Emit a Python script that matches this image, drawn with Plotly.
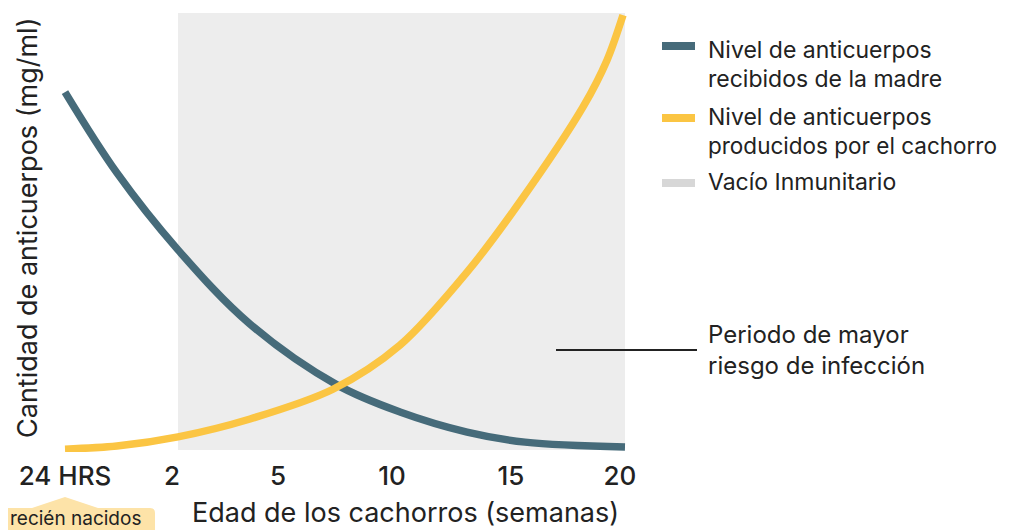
import plotly.graph_objects as go

# ---------------- data ----------------
tick_pos = [0.0, 0.964, 1.919, 2.946, 4.018, 5.0]
tick_labels = ["24 HRS", "2", "5", "10", "15", "20"]

madre_x = [0.0, 0.468, 1.018, 1.667, 2.450, 3.018, 3.622, 4.144, 5.045]
madre_y = [81.9, 63.4, 45.8, 28.8, 14.9, 8.7, 4.1, 1.8, 0.7]

cachorro_x = [0.0, 0.468, 1.018, 1.667, 2.414, 3.018, 3.622, 4.099, 4.667, 4.883, 5.027]
cachorro_y = [0.2, 0.9, 3.0, 7.1, 13.9, 24.0, 40.7, 56.8, 78.5, 89.2, 99.5]

vacio_x = [1.018, 5.045]
vacio_y = [0, 100]

legend_labels = [
    ["Nivel de anticuerpos", "recibidos de la madre"],
    ["Nivel de anticuerpos", "producidos por el cachorro"],
    ["Vacío Inmunitario"],
]
note_lines = ["Periodo de mayor", "riesgo de infección"]
x_title = "Edad de los cachorros (semanas)"
y_title = "Cantidad de anticuerpos (mg/ml)"
callout_text = "recién nacidos"

# ---------------- styling ----------------
TEAL = "#466B7A"
YELLOW = "#FBC543"
GAP_FILL = "#EDEDED"
GAP_SWATCH = "#D7D7D7"
TEXT = "#222222"
CALLOUT = "#FDE3A8"
FONT = "Inter"

OFF = 8  # page body margin
W, H = 1006, 522
L, R, T, B = 52, 382, 2, 78
PW, PH = W - L - R, H - T - B


def fx(px):  # page pixel -> paper
    return (px - OFF - L) / PW


def fy(py):
    return (H - B - (py - OFF)) / PH


fig = go.Figure()

fig.add_trace(go.Scatter(
    x=madre_x, y=madre_y, mode="lines",
    line=dict(color=TEAL, width=7.5, shape="spline", smoothing=1.0),
    hoverinfo="skip", showlegend=False))
fig.add_trace(go.Scatter(
    x=cachorro_x, y=cachorro_y, mode="lines",
    line=dict(color=YELLOW, width=7.5, shape="spline", smoothing=0.9),
    hoverinfo="skip", showlegend=False))

shapes = []
shapes.append(dict(type="rect", xref="x", yref="y",
                   x0=vacio_x[0], x1=vacio_x[1], y0=vacio_y[0], y1=vacio_y[1],
                   fillcolor=GAP_FILL, line=dict(width=0), layer="below"))

for color, cy in [(TEAL, 46), (YELLOW, 118), (GAP_SWATCH, 183)]:
    shapes.append(dict(type="rect", xref="paper", yref="paper",
                       x0=fx(662), x1=fx(695), y0=fy(cy + 4), y1=fy(cy - 4),
                       fillcolor=color, line=dict(width=0)))

shapes.append(dict(type="line", xref="paper", yref="paper",
                   x0=fx(556), x1=fx(697), y0=fy(350), y1=fy(350),
                   line=dict(color=TEXT, width=2)))


def P(px, py):
    return f"{fx(px):.5f},{fy(py):.5f}"


path = (f"M {P(8, 508)} L {P(32, 508)} L {P(65, 497)} L {P(98, 508)} "
        f"L {P(150, 508)} Q {P(155, 508)} {P(155, 513)} L {P(155, 540)} "
        f"L {P(8, 540)} Z")
shapes.append(dict(type="path", xref="paper", yref="paper", path=path,
                   fillcolor=CALLOUT, line=dict(width=0)))

annotations = []
leg_centers = [[50, 78.5], [116.5, 145], [182]]
for lines, centers in zip(legend_labels, leg_centers):
    for txt, cy in zip(lines, centers):
        fs = 22.5 if len(txt) > 22 else 23
        annotations.append(dict(text=txt, xref="paper", yref="paper",
                                x=fx(706), y=fy(cy), xanchor="left", yanchor="middle",
                                showarrow=False, font=dict(family=FONT, size=fs, color=TEXT)))

for txt, cy in zip(note_lines, [334, 365]):
    annotations.append(dict(text=txt, xref="paper", yref="paper",
                            x=fx(706), y=fy(cy), xanchor="left", yanchor="middle",
                            showarrow=False, font=dict(family=FONT, size=24, color=TEXT)))

annotations.append(dict(text=x_title, xref="paper", yref="paper",
                        x=fx(405), y=fy(512), xanchor="center", yanchor="middle",
                        showarrow=False, font=dict(family=FONT, size=27, color=TEXT)))
annotations.append(dict(text=y_title, xref="paper", yref="paper",
                        x=fx(27), y=fy(228), xanchor="center", yanchor="middle",
                        textangle=-90, showarrow=False,
                        font=dict(family=FONT, size=27, color=TEXT)))

annotations.append(dict(text=callout_text, xref="paper", yref="paper",
                        x=fx(8), y=fy(519), xanchor="left", yanchor="middle",
                        showarrow=False, font=dict(family=FONT, size=19, color=TEXT)))

fig.update_layout(
    width=W, height=H,
    margin=dict(l=L, r=R, t=T, b=B, pad=0),
    paper_bgcolor="white", plot_bgcolor="white",
    showlegend=False,
    shapes=shapes, annotations=annotations,
    xaxis=dict(range=[-5 / 111, (W - R - (65 - OFF)) / 111], tickvals=tick_pos, ticktext=tick_labels,
               showgrid=False, zeroline=False, showline=False, ticks="",
               tickfont=dict(family=FONT, size=26, color=TEXT, weight=500),
               ticklabelstandoff=6, fixedrange=True),
    yaxis=dict(range=[(450 - (H - B + OFF)) / 4.37, (450 - (T + OFF)) / 4.37],
               showgrid=False, zeroline=False, showline=False, showticklabels=False,
               ticks="", fixedrange=True),
)

fig.write_html("out.html")
